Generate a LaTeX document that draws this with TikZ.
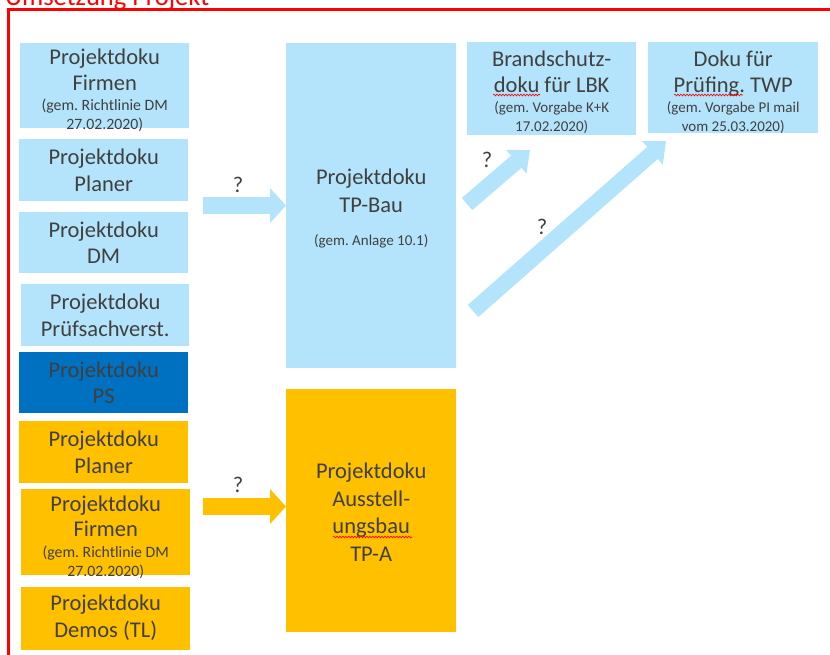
\documentclass[tikz,border=0pt]{standalone}
\usepackage{fontspec}
\setmainfont{Carlito}
\usetikzlibrary{arrows.meta,decorations.pathmorphing}

\definecolor{lightblue}{HTML}{B4E4FB}
\definecolor{psblue}{HTML}{0070C0}
\definecolor{amber}{HTML}{FFC000}
\definecolor{textgray}{HTML}{404040}
\definecolor{framered}{HTML}{FF0000}

\newcommand\mainsize{\fontsize{22.5}{26.5}\selectfont\frenchspacing}
\newcommand\notesize{\fontsize{15}{18}\selectfont\frenchspacing}
\newcommand\rulesize{\fontsize{15.8}{18}\selectfont\frenchspacing}

\tikzset{
  docbox/.style={rectangle, inner sep=0pt, anchor=north west},
  bluebox/.style={docbox, fill=lightblue},
  psbox/.style={docbox, fill=psblue},
  ambox/.style={docbox, fill=amber},
  boxtext/.style={inner sep=0pt, align=center, text=textgray, font=\mainsize},
  blockarrow/.style={line width=17pt, -{Triangle[width=34pt,length=16pt]}},
  diagarrow/.style={line width=16pt, draw=lightblue, -{Triangle[width=30pt,length=18pt]}},
  qmark/.style={text=textgray, font=\mainsize, inner sep=0pt},
  spell/.style={draw=framered, line width=0.6pt, decorate,
    decoration={snake, amplitude=0.9pt, segment length=3pt}},
}

\begin{document}
\begin{tikzpicture}[x=1pt, y=-1pt]
  \useasboundingbox (0,0) rectangle (830,654);
  \clip (0,0) rectangle (830,654);

  % heading and frame
  \node[anchor=base west, text=framered, inner sep=0pt,
        font=\fontsize{26.5}{30}\selectfont] (title) at (5,5.3) {Umsetzung Projekt};
  \draw[framered, line width=3pt] (8,700) |- (900,9);

  % source documents
  \node[bluebox, minimum width=169pt, minimum height=85pt] (f1) at (20,43) {};
  \node[bluebox, minimum width=169pt, minimum height=62pt] (f2) at (19,139) {};
  \node[bluebox, minimum width=169pt, minimum height=61pt] (f3) at (19,212) {};
  \node[bluebox, minimum width=168pt, minimum height=62pt] (f4) at (21,284) {};
  \node[psbox, minimum width=169pt, minimum height=61pt] (f5) at (19,352) {};
  \node[ambox, minimum width=169pt, minimum height=62pt] (f6) at (19,421) {};
  \node[ambox, minimum width=169pt, minimum height=86pt] (f7) at (21,489) {};
  \node[ambox, minimum width=169pt, minimum height=63pt] (f8) at (21,587) {};

  \node[boxtext, yshift=-5pt] (f1text) at (f1.center)
    {Projektdoku\\[-1pt]Firmen\\[-6pt]\rulesize (gem. Richtlinie DM\\[-7.5pt]\rulesize 27.02.2020)};
  \node[boxtext] (f2text) at (f2.center) {Projektdoku\\Planer};
  \node[boxtext] (f3text) at (f3.center) {Projektdoku\\DM};
  \node[boxtext] (f4text) at (f4.center) {Projektdoku\\Prüfsachverst.};
  \node[boxtext] (f5text) at (f5.center) {Projektdoku\\PS};
  \node[boxtext] (f6text) at (f6.center) {Projektdoku\\Planer};
  \node[boxtext, yshift=-5pt] (f7text) at (f7.center)
    {Projektdoku\\[-1pt]Firmen\\[-6pt]\rulesize (gem. Richtlinie DM\\[-7.5pt]\rulesize 27.02.2020)};
  \node[boxtext, yshift=1pt] (f8text) at (f8.center) {Projektdoku\\Demos (TL)};

  % collected documentation
  \node[bluebox, minimum width=170pt, minimum height=325pt] (tpbau) at (286,43) {};
  \node[boxtext, yshift=-3pt] (tpbautext) at (tpbau.center)
    {Projektdoku\\[1pt]TP-Bau\\[6.5pt]\notesize (gem. Anlage 10.1)};
  \node[ambox, minimum width=170pt, minimum height=243pt] (tpa) at (286,389) {};
  \node[boxtext, yshift=-1.5pt] (tpatext) at (tpa.center)
    {Projektdoku\\[1pt]Ausstell-\\[1pt]ungsbau\\[1pt]TP-A};

  % target documents
  \node[bluebox, minimum width=169pt, minimum height=93pt] (lbk) at (467,42) {};
  \node[boxtext, yshift=-4pt] (lbktext) at (lbk.center)
    {Brandschutz-\\[-1pt]doku für LBK\\[-6pt]\notesize (gem. Vorgabe K+K\\[-7.5pt]\notesize 17.02.2020)};
  \node[bluebox, minimum width=170pt, minimum height=91pt] (twp) at (648,42) {};
  \node[boxtext, yshift=-5pt] (twptext) at (twp.center)
    {Doku für\\[-1pt]Prüfing. TWP\\[-6pt]\notesize (gem. Vorgabe PI mail\\[-7.5pt]\notesize vom 25.03.2020)};

  % block arrows
  \coordinate (inbau) at (203,205.5);
  \draw[blockarrow, draw=lightblue] (inbau) -- (inbau -| tpbau.west);
  \coordinate (intpa) at (203,506.5);
  \draw[blockarrow, draw=amber] (intpa) -- (intpa -| tpa.west);

  \coordinate (lbkfrom) at (467,204);
  \coordinate (lbkto) at (530,150);
  \draw[diagarrow] (lbkfrom) -- (lbkto);
  \coordinate (twpfrom) at (473,311);
  \coordinate (twpto) at (666,141);
  \draw[diagarrow] (twpfrom) -- (twpto);

  % question marks
  \node[qmark] (q1) at (238,185) {?};
  \node[qmark] (q2) at (238,485) {?};
  \node[qmark] (q3) at (487,160) {?};
  \node[qmark] (q4) at (542,227) {?};

  % spelling marks
  \draw[spell] (493,95) -- (540,95);
  \draw[spell] (674,95) -- (743,95);
  \draw[spell] (333,537) -- (412,537);
\end{tikzpicture}
\end{document}
